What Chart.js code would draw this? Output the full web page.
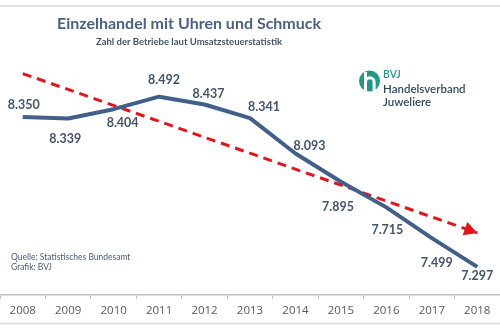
<!DOCTYPE html>
<html>
<head>
<meta charset="utf-8">
<script src="https://cdn.jsdelivr.net/npm/chart.js@4"></script>
<style>
  html, body { margin: 0; padding: 0; background: #fff; }
  #wrap { width: 500px; height: 330px; }
</style>
</head>
<body>
<div id="wrap"><canvas id="chart" width="500" height="330"></canvas></div>
<script>
// Zahl der Betriebe (Einzelhandel mit Uhren und Schmuck)
const years = ["2008", "2009", "2010", "2011", "2012", "2013", "2014", "2015", "2016", "2017", "2018"];
const betriebe = [8350, 8339, 8404, 8492, 8437, 8341, 8093, 7895, 7715, 7499, 7297];
// Trendlinie, Anfangs- und Endwert
const trend = [8654, null, null, null, null, null, null, null, null, null, 7536];

// label offsets from the point [dx, dy]
const labelOffsets = [[1, -12], [-3, 21], [9, 14], [5, -17], [4, -11], [14, -11], [14, -8], [-3, 25], [1, 23], [5, 25], [0, 9]];

const blue = "#40608b";
const red = "#e5141b";
const textBlue = "#44546a";

function fmt(v) {
  return Math.floor(v / 1000) + "." + String(v % 1000).padStart(3, "0");
}

const decor = {
  id: "decor",
  beforeDraw(chart) {
    const ctx = chart.ctx;
    ctx.save();
    // frame lines
    ctx.strokeStyle = "#d9d9d9";
    ctx.lineWidth = 1.5;
    ctx.beginPath();
    ctx.moveTo(0, 6); ctx.lineTo(500, 6);
    ctx.moveTo(0, 323.5); ctx.lineTo(500, 323.5);
    ctx.stroke();

    // titles
    ctx.textAlign = "center";
    ctx.textBaseline = "middle";
    ctx.fillStyle = "#4a6283";
    ctx.font = "bold 16px Lato, sans-serif";
    ctx.fillText("Einzelhandel mit Uhren und Schmuck", 189, 24);
    ctx.fillStyle = textBlue;
    ctx.font = "bold 9.5px Lato, sans-serif";
    ctx.fillText("Zahl der Betriebe laut Umsatzsteuerstatistik", 189, 42);

    // source
    ctx.textAlign = "left";
    ctx.fillStyle = "#4a5a72";
    ctx.font = "8.5px Lato, sans-serif";
    ctx.fillText("Quelle: Statistisches Bundesamt", 11, 257);
    ctx.fillText("Grafik: BVJ", 11, 267);

    // logo
    ctx.fillStyle = "#1f9a87";
    ctx.beginPath();
    ctx.arc(369.5, 81, 10.5, 0, Math.PI * 2);
    ctx.fill();
    ctx.strokeStyle = "#fff";
    ctx.lineWidth = 3;
    ctx.lineCap = "butt";
    ctx.beginPath();
    ctx.moveTo(365.5, 72); ctx.lineTo(365.5, 91);
    ctx.moveTo(365.5, 82);
    ctx.arc(369.8, 82, 4.3, Math.PI, 0);
    ctx.lineTo(374.1, 91);
    ctx.stroke();

    ctx.fillStyle = "#1f9a87";
    ctx.font = "600 10.5px Lato, sans-serif";
    ctx.fillText("BVJ", 383, 75);
    ctx.fillStyle = "#34495e";
    ctx.font = "600 11.5px Lato, sans-serif";
    ctx.fillText("Handelsverband", 383, 89);
    ctx.fillText("Juweliere", 383, 102);
    ctx.restore();
  },
  afterDatasetsDraw(chart) {
    const ctx = chart.ctx;
    ctx.save();
    // arrow head on trend line
    const tm = chart.getDatasetMeta(1).data;
    const p0 = tm[0], p1 = tm[tm.length - 1];
    const ang = Math.atan2(p1.y - p0.y, p1.x - p0.x);
    const len = 13, half = 7;
    const bx = p1.x - len * Math.cos(ang), by = p1.y - len * Math.sin(ang);
    ctx.fillStyle = red;
    ctx.beginPath();
    ctx.moveTo(p1.x, p1.y);
    ctx.lineTo(bx + half * Math.sin(ang), by - half * Math.cos(ang));
    ctx.lineTo(bx - half * Math.sin(ang), by + half * Math.cos(ang));
    ctx.closePath();
    ctx.fill();

    // value labels
    const pts = chart.getDatasetMeta(0).data;
    ctx.fillStyle = textBlue;
    ctx.font = "bold 12.5px Lato, sans-serif";
    ctx.textAlign = "center";
    ctx.textBaseline = "middle";
    pts.forEach((pt, i) => {
      const [dx, dy] = labelOffsets[i];
      ctx.fillText(fmt(betriebe[i]), pt.x + dx, pt.y + dy);
    });
    ctx.restore();
  }
};

new Chart(document.getElementById("chart"), {
  type: "line",
  data: {
    labels: years,
    datasets: [
      {
        label: "Betriebe",
        data: betriebe,
        borderColor: blue,
        borderWidth: 4,
        borderJoinStyle: "round",
        pointRadius: 0,
        tension: 0,
      },
      {
        label: "Trend",
        data: trend,
        borderColor: red,
        borderWidth: 3,
        borderDash: [9, 6],
        pointRadius: 0,
        spanGaps: true,
        tension: 0,
      },
    ],
  },
  options: {
    responsive: false,
    animation: false,
    layout: { padding: { top: 20, bottom: 0, left: 0, right: 0 } },
    plugins: { legend: { display: false }, tooltip: { enabled: false } },
    scales: {
      x: {
        offset: true,
        afterFit(scale) { scale.height = 35; },
        grid: { display: true, drawOnChartArea: false, offset: true, tickLength: 4, color: "#bfbfbf" },
        border: { display: true, color: "#bfbfbf", width: 1.5 },
        ticks: { color: "#595959", font: { size: 11.5, family: "'Open Sans', sans-serif" }, padding: 5, maxRotation: 0 },
      },
      y: {
        display: false,
        min: 7100,
        max: 9030,
      },
    },
  },
  plugins: [decor],
});
</script>
</body>
</html>
